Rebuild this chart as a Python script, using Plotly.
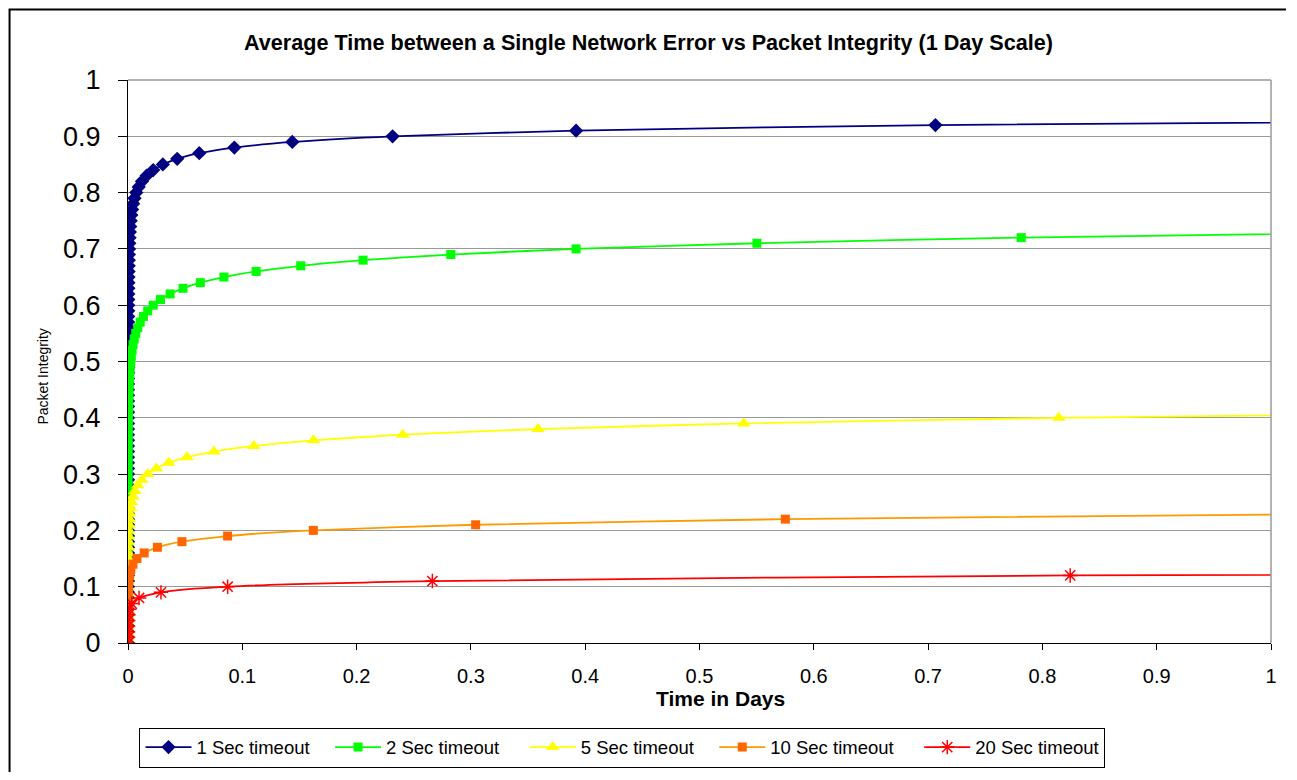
import plotly.graph_objects as go

# ---- data ----
INTEGRITY = [0.00, 0.01, 0.02, 0.03, 0.04, 0.05, 0.06, 0.07, 0.08, 0.09,
             0.10, 0.11, 0.12, 0.13, 0.14, 0.15, 0.16, 0.17, 0.18, 0.19,
             0.20, 0.21, 0.22, 0.23, 0.24, 0.25, 0.26, 0.27, 0.28, 0.29,
             0.30, 0.31, 0.32, 0.33, 0.34, 0.35, 0.36, 0.37, 0.38, 0.39,
             0.40, 0.41, 0.42, 0.43, 0.44, 0.45, 0.46, 0.47, 0.48, 0.49,
             0.50, 0.51, 0.52, 0.53, 0.54, 0.55, 0.56, 0.57, 0.58, 0.59,
             0.60, 0.61, 0.62, 0.63, 0.64, 0.65, 0.66, 0.67, 0.68, 0.69,
             0.70, 0.71, 0.72, 0.73, 0.74, 0.75, 0.76, 0.77, 0.78, 0.79,
             0.80, 0.81, 0.82, 0.83, 0.84, 0.85, 0.86, 0.87, 0.88, 0.89,
             0.90, 0.91, 0.92, 0.93]

TIME_1S = [0.0000023, 0.0000024, 0.0000026, 0.0000027, 0.0000028, 0.0000030, 0.0000032, 0.0000033, 0.0000035, 0.0000037,
           0.0000039, 0.0000041, 0.0000044, 0.0000046, 0.0000049, 0.0000052, 0.0000055, 0.0000059, 0.0000062, 0.0000066,
           0.0000071, 0.0000075, 0.0000080, 0.0000086, 0.0000091, 0.0000098, 0.0000104, 0.0000112, 0.0000120, 0.0000128,
           0.0000138, 0.0000148, 0.0000159, 0.0000171, 0.0000185, 0.0000200, 0.0000216, 0.0000233, 0.0000253, 0.0000274,
           0.0000298, 0.0000324, 0.0000353, 0.0000385, 0.0000420, 0.0000460, 0.0000504, 0.0000554, 0.0000609, 0.0000671,
           0.0000741, 0.0000819, 0.0000908, 0.0001010, 0.0001124, 0.0001255, 0.0001404, 0.0001575, 0.0001771, 0.0001997,
           0.0002261, 0.0002566, 0.0002921, 0.0003338, 0.0003828, 0.0004408, 0.0005094, 0.0005914, 0.0006900, 0.0008085,
           0.0009526, 0.0011286, 0.0013450, 0.0016131, 0.0019485, 0.0023704, 0.0029073, 0.0035967, 0.0044913, 0.0056680,
           0.0072338, 0.0093490, 0.0122500, 0.0163030, 0.0220760, 0.0304830, 0.0430400, 0.0623450, 0.0930270, 0.1437300,
           0.2314800, 0.3920100, 0.7064200, 1.3772900]

TIME_2S = [0.0000023, 0.0000026, 0.0000028, 0.0000031, 0.0000035, 0.0000039, 0.0000043, 0.0000048, 0.0000053, 0.0000059,
           0.0000066, 0.0000074, 0.0000083, 0.0000093, 0.0000105, 0.0000118, 0.0000132, 0.0000149, 0.0000168, 0.0000190,
           0.0000216, 0.0000244, 0.0000278, 0.0000316, 0.0000360, 0.0000411, 0.0000470, 0.0000539, 0.0000618, 0.0000711,
           0.0000819, 0.0000946, 0.0001095, 0.0001270, 0.0001476, 0.0001719, 0.0002008, 0.0002350, 0.0002758, 0.0003245,
           0.0003828, 0.0004529, 0.0005373, 0.0006394, 0.0007633, 0.0009138, 0.0010978, 0.0013236, 0.0016014, 0.0019448,
           0.0023704, 0.0029006, 0.0035654, 0.0044025, 0.0054549, 0.0067998, 0.0085134, 0.0107120, 0.0135510, 0.0172340,
           0.0220750, 0.0284400, 0.0368670, 0.0481460, 0.0633040, 0.0839220, 0.1121100, 0.1511100, 0.2056500, 0.2824000,
           0.3920100, 0.5502600, 0.7815000, 1.1241000]

TIME_5S = [0.0000023, 0.0000030, 0.0000038, 0.0000050, 0.0000064, 0.0000083, 0.0000109, 0.0000142, 0.0000186, 0.0000245,
           0.0000322, 0.0000426, 0.0000566, 0.0000753, 0.0001005, 0.0001346, 0.0001810, 0.0002443, 0.0003307, 0.0004495,
           0.0006132, 0.0008401, 0.0011552, 0.0015948, 0.0022116, 0.0030794, 0.0043076, 0.0060499, 0.0085393, 0.0121090,
           0.0172670, 0.0247350, 0.0356280, 0.0515940, 0.0751490, 0.1100700, 0.1622100, 0.2404400, 0.3587300, 0.5386600,
           0.8142800, 1.2393000]

TIME_10S = [0.0000023, 0.0000038, 0.0000064, 0.0000106, 0.0000178, 0.0000301, 0.0000511, 0.0000872, 0.0001497, 0.0002586,
            0.0004495, 0.0007861, 0.0013830, 0.0024464, 0.0043653, 0.0078305, 0.0141440, 0.0257350, 0.0471850, 0.0871560,
            0.1621500, 0.3041600, 0.5751000, 1.0961000]

TIME_20S = [0.0000023, 0.0000063, 0.0000175, 0.0000487, 0.0001372, 0.0003908, 0.0011283, 0.0032862, 0.0096792, 0.0288580,
            0.0871560, 0.2662800, 0.8243100, 2.5852000]

SERIES_NAMES = ["1 Sec timeout", "2 Sec timeout", "5 Sec timeout", "10 Sec timeout", "20 Sec timeout"]
X_TICKS = [0, 0.1, 0.2, 0.3, 0.4, 0.5, 0.6, 0.7, 0.8, 0.9, 1]
Y_TICKS = [0, 0.1, 0.2, 0.3, 0.4, 0.5, 0.6, 0.7, 0.8, 0.9, 1]

# ---- styles ----
FONT = "Arial, Liberation Sans, sans-serif"
styles = [
    dict(line=dict(color="#000080", width=1.8), marker=dict(symbol="diamond", size=11, color="#000080")),
    dict(line=dict(color="#00FF00", width=1.8), marker=dict(symbol="square", size=9, color="#00FF00")),
    dict(line=dict(color="#FFFF00", width=1.8), marker=dict(symbol="triangle-up", size=12, color="#FFFF00")),
    dict(line=dict(color="#FF9900", width=1.8), marker=dict(symbol="square", size=9, color="#FF6600")),
    dict(line=dict(color="#FF0000", width=1.8),
         marker=dict(symbol="asterisk-open", size=12, color="#FF0000", line=dict(color="#FF0000", width=1.5))),
]
times = [TIME_1S, TIME_2S, TIME_5S, TIME_10S, TIME_20S]
PADS = ["\u00a0\u00a0\u00a0", "\u00a0\u00a0\u00a0\u00a0", "\u00a0\u00a0\u00a0", "\u00a0\u00a0\u00a0\u00a0", ""]

fig = go.Figure()
for name, t, st, pad in zip(SERIES_NAMES, times, styles, PADS):
    fig.add_trace(go.Scatter(
        x=t, y=INTEGRITY[:len(t)], name=name + pad, mode="lines+markers",
        line=dict(shape="spline", smoothing=0.6, **st["line"]),
        marker=st["marker"],
    ))

# page has an 8px body margin; work in figure coordinates = reference - 8
OFF = 8
W, H = 1297 - 2 * OFF, 780 - 2 * OFF
L, R, T, B = 127.5 - OFF, 1271 - OFF, 79.5 - OFF, 643.3 - OFF
pw, ph = R - L, B - T

def px(x):
    return (x - OFF - L) / pw

def py(y):
    return (B - (y - OFF)) / ph

# outer chart frame (left and top edges) as one open path in paper units
frame_path = "M {x0:.5f},{yb:.5f} L {x0:.5f},{yt:.5f} L {x1:.5f},{yt:.5f}".format(
    x0=px(9), yb=py(780), yt=py(9), x1=px(1286))

fig.update_layout(
    width=W, height=H,
    margin=dict(l=L, r=W - R, t=T, b=H - B, pad=0, autoexpand=False),
    paper_bgcolor="white", plot_bgcolor="white",
    font=dict(family=FONT, color="black"),
    title=dict(text="<b>Average Time between a Single Network Error vs Packet Integrity (1 Day Scale)</b>",
               font=dict(family=FONT, size=21.6, color="black"),
               x=(648.5 - OFF) / W, xref="container", xanchor="center",
               y=1 - (42 - OFF) / H, yref="container", yanchor="middle"),
    xaxis=dict(range=[0, 1], tickvals=X_TICKS, ticktext=[str(v) for v in X_TICKS],
               showgrid=False, zeroline=False,
               showline=True, linecolor="black", linewidth=1.2,
               ticks="outside", ticklen=6, tickcolor="black", tickwidth=1,
               tickfont=dict(family=FONT, size=20), ticklabelstandoff=9),
    yaxis=dict(range=[0, 1], tickvals=Y_TICKS, ticktext=[str(v) for v in Y_TICKS],
               showgrid=True, gridcolor="#999999", gridwidth=1, zeroline=False,
               showline=True, linecolor="black", linewidth=1.2,
               ticks="outside", ticklen=9, tickcolor="black", tickwidth=1,
               tickfont=dict(family=FONT, size=27), ticklabelstandoff=12),
    showlegend=True,
    legend=dict(orientation="h", x=px(139), xanchor="left", y=py(728), yanchor="top",
                bordercolor="black", borderwidth=1, bgcolor="white",
                font=dict(family=FONT, size=18.5), itemwidth=46, tracegroupgap=0),
    annotations=[
        dict(text="<b>Time in Days</b>", xref="paper", yref="paper", x=px(720), y=py(699),
             xanchor="center", yanchor="middle", showarrow=False, font=dict(family=FONT, size=21)),
        dict(text="Packet Integrity", xref="paper", yref="paper", x=px(43), y=py(376), textangle=-90,
             xanchor="center", yanchor="middle", showarrow=False, font=dict(family=FONT, size=14)),
    ],
    shapes=[
        dict(type="line", xref="paper", yref="paper", x0=0, x1=1, y0=1, y1=1,
             line=dict(color="#999999", width=1.5)),
        dict(type="line", xref="paper", yref="paper", x0=1, x1=1, y0=0, y1=1,
             line=dict(color="#999999", width=1.5)),
        dict(type="path", xref="paper", yref="paper", path=frame_path,
             line=dict(color="black", width=2), fillcolor="rgba(0,0,0,0)", layer="above"),
    ],
)

fig.write_html("out.html")
